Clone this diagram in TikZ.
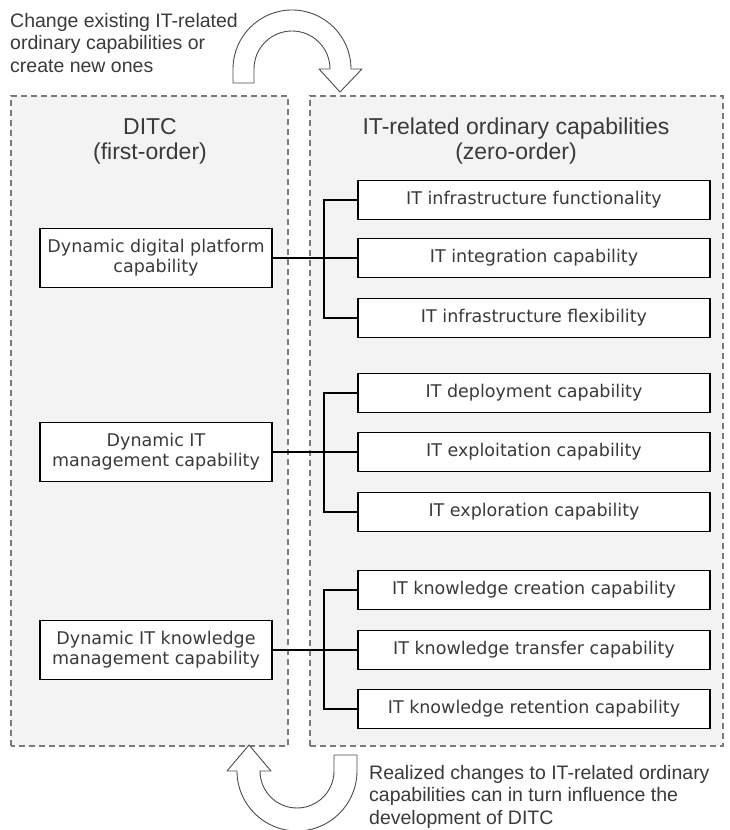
\documentclass[tikz,border=0pt]{standalone}
\usepackage{fontspec}
\setmainfont{Liberation Sans}
\newfontfamily\boxfont{DejaVu Sans}
\definecolor{txt}{HTML}{3A3A3A}
\definecolor{panelfill}{HTML}{F3F3F3}
\definecolor{panelline}{HTML}{7A7A7A}
\begin{document}
\begin{tikzpicture}[x=1pt,y=1pt,
 panel/.style={draw=panelline, fill=panelfill, line width=1.2pt, dash pattern=on 6pt off 4pt},
 leftbox/.style={draw=black, fill=white, line width=1.4pt, minimum width=232pt, minimum height=59pt, inner sep=0pt, align=center, text=txt, font=\boxfont\fontsize{17.5}{20}\selectfont},
 rightbox/.style={draw=black, fill=white, line width=1.4pt, minimum width=352pt, minimum height=39pt, inner sep=0pt, text=txt, font=\boxfont\fontsize{17.5}{20}\selectfont},
 paneltitle/.style={align=center, text=txt, inner sep=0pt, font=\fontsize{23}{25}\selectfont},
 note/.style={align=left, text=txt, inner sep=0pt, font=\fontsize{19.5}{22.5}\selectfont},
 bus/.style={draw=black, line width=2pt},
 turn/.style={draw=black!70, fill=white, line width=0.9pt, line join=round}]

\useasboundingbox (0,0) rectangle (730,830);
\fill[white] (0,0) rectangle (730,830);

% panels
\draw[panel] (11,84) rectangle (288,734);
\draw[panel] (310,84) rectangle (723,734);

% turning arrows
\begin{scope}
\clip (0,0) rectangle (730,830);
\draw[turn] (233,747) -- (233,761) arc[start angle=180,end angle=0,radius=59]
  -- (362,761) -- (340,738) -- (319,761) -- (330,761)
  arc[start angle=0,end angle=180,radius=38] -- (254,747) -- cycle;
\draw[turn] (357,75) -- (357,59) arc[start angle=0,end angle=-180,radius=60]
  -- (227,59) -- (249,85) -- (271,59) -- (260,59)
  arc[start angle=180,end angle=360,radius=37] -- (334,75) -- cycle;
\end{scope}

% notes
\node[note, anchor=north west] (topnote) at (10,817) {Change existing IT-related\\ordinary capabilities or\\create new ones};
\node[note, anchor=north west] (botnote) at (369,65) {Realized changes to IT-related ordinary\\capabilities can in turn influence the\\development of DITC};

% titles
\node[paneltitle] (tl) at (150,689) {DITC\\(first-order)};
\node[paneltitle] (tr) at (516,689) {IT-related ordinary capabilities\\(zero-order)};

% left boxes
\node[leftbox] (L1) at (156,572) {Dynamic digital platform\\capability};
\node[leftbox] (L2) at (156,378) {Dynamic IT\\management capability};
\node[leftbox] (L3) at (156,180) {Dynamic IT knowledge\\management capability};

% right boxes
\node[rightbox] (R1) at (534,630) {IT infrastructure functionality};
\node[rightbox] (R2) at (534,572) {IT integration capability};
\node[rightbox] (R3) at (534,512) {IT infrastructure flexibility};
\node[rightbox] (R4) at (534,437) {IT deployment capability};
\node[rightbox] (R5) at (534,378) {IT exploitation capability};
\node[rightbox] (R6) at (534,318) {IT exploration capability};
\node[rightbox] (R7) at (534,240) {IT knowledge creation capability};
\node[rightbox] (R8) at (534,180) {IT knowledge transfer capability};
\node[rightbox] (R9) at (534,121) {IT knowledge retention capability};

% connectors
\coordinate (b) at (324,0);
\draw[bus] (R1.west) -- (R1.west -| b) -- (R3.west -| b) -- (R3.west);
\draw[bus] (R4.west) -- (R4.west -| b) -- (R6.west -| b) -- (R6.west);
\draw[bus] (R7.west) -- (R7.west -| b) -- (R9.west -| b) -- (R9.west);
\draw[bus] (L1.east) -- (R2.west);
\draw[bus] (L2.east) -- (R5.west);
\draw[bus] (L3.east) -- (R8.west);
\end{tikzpicture}
\end{document}
